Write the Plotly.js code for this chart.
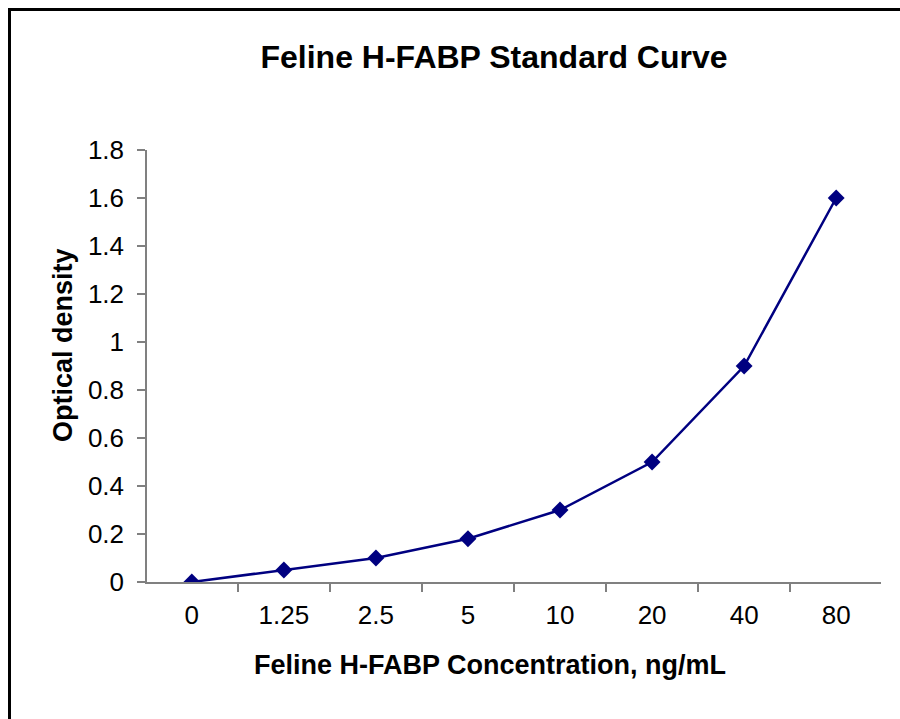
<!DOCTYPE html>
<html>
<head>
<meta charset="utf-8">
<script src="https://cdn.plot.ly/plotly-3.0.1.min.js"></script>
<style>
html,body{margin:0;padding:0;background:#fff;overflow:hidden;}
#wrap{position:relative;width:900px;height:719px;}
#chart{position:absolute;left:0;top:0;width:900px;height:719px;}
#frame{position:absolute;left:8px;top:8px;width:1000px;height:1000px;border:3px solid #000;box-sizing:border-box;pointer-events:none;}
</style>
</head>
<body>
<div id="wrap"><div id="chart"></div><div id="frame"></div></div>
<script>
var concentrations = ["0", "1.25", "2.5", "5", "10", "20", "40", "80"];
var opticalDensity = [0, 0.05, 0.1, 0.18, 0.3, 0.5, 0.9, 1.6];
var yTicks = [0, 0.2, 0.4, 0.6, 0.8, 1, 1.2, 1.4, 1.6, 1.8];
var yTickLabels = ["0", "0.2", "0.4", "0.6", "0.8", "1", "1.2", "1.4", "1.6", "1.8"];
var chartTitle = "Feline H-FABP Standard Curve";
var xTitle = "Feline H-FABP Concentration, ng/mL";
var yTitle = "Optical density";

var trace = {
  x: concentrations,
  y: opticalDensity,
  type: 'scatter',
  mode: 'lines+markers',
  line: {color: '#000080', width: 2.5},
  marker: {symbol: 'diamond', size: 13, color: '#000080'},
  hoverinfo: 'x+y'
};

var L = 147, R = 881, T = 150, B = 582;
var W = R - L, H = B - T;

var layout = {
  width: 900,
  height: 719,
  margin: {l: L, r: 900 - R, t: T, b: 719 - B},
  paper_bgcolor: 'rgba(0,0,0,0)',
  plot_bgcolor: 'rgba(0,0,0,0)',
  font: {family: 'Liberation Sans, Arial, sans-serif', color: '#000', size: 26},
  showlegend: false,
  title: {
    text: '<b>' + chartTitle + '</b>',
    font: {size: 32, family: 'Liberation Sans, Arial, sans-serif', color: '#000'},
    xref: 'container', x: 494/900, xanchor: 'center',
    yref: 'container', y: 1 - 57/719, yanchor: 'middle'
  },
  xaxis: {
    type: 'category',
    tickson: 'boundaries',
    ticks: 'outside',
    ticklen: 8,
    tickcolor: '#808080',
    tickwidth: 1.5,
    showline: true,
    linecolor: '#808080',
    linewidth: 1.5,
    showgrid: false,
    zeroline: false,
    tickfont: {size: 26},
    ticklabelstandoff: 9
  },
  yaxis: {
    range: [0, 1.8],
    tickvals: yTicks,
    ticktext: yTickLabels,
    ticks: 'outside',
    ticklen: 8,
    tickcolor: '#808080',
    tickwidth: 1.5,
    showline: true,
    linecolor: '#808080',
    linewidth: 1.5,
    showgrid: false,
    zeroline: false,
    tickfont: {size: 26},
    ticklabelstandoff: 8
  },
  annotations: [
    {
      text: '<b>' + xTitle + '</b>',
      xref: 'paper', yref: 'paper',
      x: (490 - L) / W, y: (B - 665) / H,
      xanchor: 'center', yanchor: 'middle',
      showarrow: false,
      font: {size: 27, color: '#000'}
    },
    {
      text: '<b>' + yTitle + '</b>',
      xref: 'paper', yref: 'paper',
      x: (63 - L) / W, y: (B - 345) / H,
      xanchor: 'center', yanchor: 'middle',
      textangle: -90,
      showarrow: false,
      font: {size: 27, color: '#000'}
    }
  ]
};

Plotly.newPlot('chart', [trace], layout, {displayModeBar: false});
</script>
</body>
</html>
